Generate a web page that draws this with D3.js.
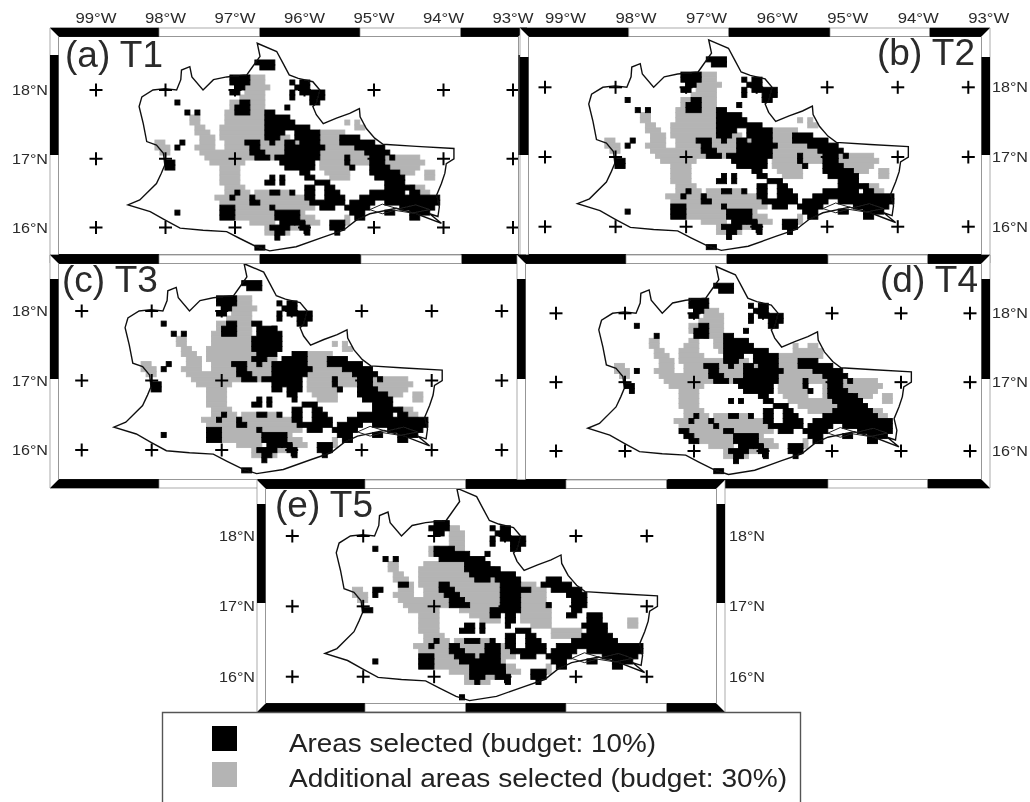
<!DOCTYPE html>
<html><head><meta charset="utf-8">
<script src="https://cdn.jsdelivr.net/npm/d3@7"></script>
<style>html,body{margin:0;padding:0;background:#fff}svg{display:block}text{font-family:"Liberation Sans",Arial,sans-serif}</style>
</head><body><svg id="c" width="1030" height="802"></svg>
<script>
// Tick labels / legend
const lonTicks=[99,98,97,96,95,94,93];
const latTicks=[18,17,16];
const legendLabels=["Areas selected (budget: 10%)","Additional areas selected (budget: 30%)"];

// State outline [lon, lat]
const outline=[[-96.68,18.68],[-96.40,18.56],[-96.31,18.39],[-96.22,18.22],[-96.09,18.17],[-95.88,18.12],[-95.78,18.00],[-95.83,17.81],[-95.88,17.76],[-95.83,17.64],[-95.73,17.51],[-95.54,17.59],[-95.35,17.66],[-95.21,17.73],[-95.20,17.61],[-95.11,17.44],[-94.99,17.30],[-94.87,17.21],[-94.39,17.18],[-93.85,17.15],[-93.85,17.00],[-93.96,16.93],[-93.98,16.79],[-94.03,16.64],[-94.10,16.47],[-94.06,16.30],[-94.08,16.16],[-94.20,16.20],[-94.03,16.06],[-94.39,16.20],[-94.68,16.28],[-95.06,16.20],[-95.25,16.11],[-95.44,15.96],[-95.73,15.86],[-96.12,15.72],[-96.50,15.66],[-96.69,15.72],[-96.93,15.84],[-97.12,15.94],[-97.46,15.96],[-97.79,15.99],[-98.01,16.11],[-98.22,16.23],[-98.54,16.33],[-98.37,16.40],[-98.13,16.64],[-98.06,16.79],[-98.01,16.91],[-98.03,17.08],[-98.13,17.20],[-98.27,17.25],[-98.32,17.51],[-98.38,17.76],[-98.34,17.90],[-98.18,18.00],[-98.01,18.02],[-97.84,18.00],[-97.78,18.15],[-97.77,18.29],[-97.65,18.34],[-97.62,18.19],[-97.46,18.00],[-97.31,18.15],[-97.12,18.19],[-96.83,18.22],[-96.76,18.32],[-96.64,18.49]];
// Lagoon shoreline behind the south-east coast
const lagoon=[[-95.06,16.26],[-94.88,16.34],[-94.65,16.27],[-94.40,16.33],[-94.20,16.26],[-94.45,16.21],[-94.70,16.25],[-94.88,16.20],[-95.06,16.26]];

// Planning-unit grid: rows are [row, firstCol, lastCol, firstCol, lastCol, ...]
const blackTip=[[0,21,24],[1,22,24]];
const blackNW=[[3,16,19],[4,16,19],[5,17,18],[6,16,17],[8,18,19],[9,17,19],[10,17,19]];
const blackNE=[[4,28,28,30,31],[5,29,31],[6,28,28,30,34],[7,28,28,32,34],[8,32,33],[9,27,27]];
const blackSpots=[[8,5,5],[10,7,7,9,9],[16,6,6],[17,5,5],[20,3,4],[21,3,4]];
const blackSpotsT4=[[8,5,5],[10,9,9],[17,5,5],[20,3,4],[21,4,4]];
const blackCluster=[[16,19,21],[17,20,21],[18,20,22],[19,21,23]];
const blackCentralT1=[[10,23,24],[11,23,27],[12,23,28],[13,23,31],[14,23,26,29,33],[15,23,25,29,33],[16,24,24,27,28,30,33],[17,27,28,29,33,34,34],[18,27,33],[19,25,26,27,33],[20,26,32],[21,27,32],[22,30,31],[23,31,32]];
const blackCentralT3=[[8,23,24],[9,24,27],[10,24,28],[11,23,28],[12,23,28],[13,23,28],[14,24,27,31,33],[15,23,25,29,33],[16,24,24,27,28,29,33],[17,27,28,29,33,34,34],[18,27,33],[19,25,26,27,32],[20,27,32],[21,27,28,30,32],[22,30,31],[23,31,31]];
const blackEast=[[15,38,41],[16,38,44],[17,41,46],[18,43,47],[19,39,39,44,46,48,48],[20,39,39,44,46],[21,40,40,44,47],[22,44,49],[23,45,50]];
const blackSE=[[24,47,50],[25,47,52],[26,44,46,47,50,52,53],[27,42,57],[28,40,44,47,57],[29,39,43,50,56],[30,40,42,47,48,52,55],[31,41,42,52,53]];
const blackSET4=[[22,46,48],[23,45,50],[24,46,51],[25,45,52],[26,43,53],[27,41,56],[28,40,44,47,56],[29,39,43,50,56],[30,40,42,47,48,52,55],[31,41,42,52,53]];
const blackRing=[[24,33,35],[25,31,32,35,36],[26,31,32,35,37],[27,31,32,35,38],[28,32,38],[29,34,36]];
const blackSouth=[[23,24,24,26,26],[24,23,24,26,26],[26,17,17,24,25,28,28],[27,16,16,20,20],[28,20,21],[29,14,16,24,24],[30,5,5,14,16,25,29],[31,14,16,25,29],[32,26,28,29,30,36,38],[33,24,27,30,31,36,38],[34,25,26,31,31,37,37],[35,25,25],[37,21,22]];
const blackSouthT4=[[23,24,24,26,26],[26,17,17,24,25,28,28],[27,16,16,20,20],[28,21,21],[29,14,15,23,24],[30,15,16,25,29],[31,16,17,25,29],[32,26,28,29,30,36,38],[33,24,27,30,31,36,38],[34,25,26,31,31,37,37],[35,25,25],[37,21,22]];
const blackT5=[[3,17,19],[4,16,19,28,28,30,31],[5,17,18,29,31],[6,28,28,30,34],[7,28,28,32,34],[8,5,5,17,20,32,33],[9,17,23,27,27],[10,7,7,9,9,18,26],[11,23,27],[12,23,29],[13,24,32],[14,25,27,29,33,39,41],[15,10,11,18,19,30,33,38,43],[16,5,6,18,20,30,33,34,35,40,45],[17,5,5,19,21,30,33,43,46],[18,20,22,30,33,44,46],[19,20,23,30,33,39,39,44,46],[20,3,4,28,29,30,33,44,45],[21,28,29,31,32,43,44,47,49],[22,31,32,47,49],[23,23,24,26,26,31,31,46,50],[24,22,24,26,26,33,35,47,50],[25,31,32,35,36,46,51],[26,17,17,23,25,28,28,31,32,35,37,44,52],[27,16,16,20,21,27,29,31,32,35,38,41,57],[28,20,22,27,29,32,38,40,44,47,57],[29,14,16,21,24,26,29,34,36,39,43,50,56],[30,5,5,14,16,22,29,40,42,47,48,52,55],[31,14,16,24,30,41,42,52,53],[32,24,26,27,30,36,38],[33,24,26,29,31,36,38],[34,25,25,31,31,37,37],[37,22,22]];

const grayT1=[[3,20,22],[4,20,22],[5,19,23],[6,19,22],[7,18,22],[8,16,22],[9,16,22],[10,15,22],[11,8,9,15,23],[12,8,9,15,23,39,39,41,41],[13,9,10,14,23,41,42],[14,9,11,14,25,34,38],[15,10,12,14,27,34,38],[16,1,2,10,12,15,29,34,38],[17,1,3,9,12,15,27,34,40],[18,2,3,10,24,25,27,34,43],[19,11,24,34,44,47,53],[20,12,18,34,43,47,54],[21,14,17,34,40,47,53],[22,14,17,35,39,50,52,55,56],[23,14,17,36,39,55,56],[24,14,17],[25,15,18,52,54],[26,15,19,21,27,52,55],[27,13,30],[28,14,32],[29,16,32],[30,15,30],[31,17,24,27,32,39,39],[32,20,24,30,33,39,39],[33,23,30],[34,23,27]];
const grayT4=[[5,19,21],[6,19,22],[7,18,22],[8,16,22],[9,16,22],[10,19,22],[11,8,9,16,17,21,24],[12,8,9,15,17,21,24,37,37,40,41],[13,9,10,14,17,22,24,37,42],[14,9,11,14,18,23,25,34,42],[15,10,12,14,27,34,38],[16,1,2,10,12,15,29,34,39],[17,1,3,9,12,15,27,34,42],[18,2,3,10,24,25,27,34,44],[19,11,24,34,44,47,53],[20,12,18,34,39,43,44,47,54],[21,14,17,34,39,43,44,47,53],[22,14,17,35,39,43,44,50,52,55,56],[23,14,17,36,44,55,56],[24,14,17,38,45],[25,15,18,40,45,52,54],[26,15,19,21,27,52,55],[27,13,30],[28,14,32],[29,16,32],[30,15,30],[31,17,24,27,32,39,39],[32,20,24,30,33,39,39],[33,23,30],[34,23,27]];
const grayT5=[[4,20,21],[5,20,22],[6,20,22],[7,20,22],[8,16,17,20,22],[9,16,17],[11,8,9,15,27],[12,8,9,14,28],[13,9,10,14,29],[14,9,11,14,29],[15,10,12,14,29,34,36],[16,1,2,10,12,15,29,34,38],[17,1,3,9,12,15,29,34,38],[18,2,3,10,29,34,38],[19,11,29,34,39],[20,12,17,22,29,34,39],[21,14,17,24,29,34,39],[22,14,17,26,29,34,39,55,56],[23,14,17,36,39,55,56],[24,14,17,40,45],[25,15,18,40,45],[26,15,19,21,27],[27,13,30],[28,14,32],[29,16,32],[30,15,30],[31,17,24,27,32,39,39],[32,20,24,30,33,39,39],[33,23,30],[34,23,27]];

const blackT1=[].concat(blackTip,blackNW,blackNE,blackSpots,blackCluster,blackCentralT1,blackEast,blackSE,blackRing,blackSouth);
const blackT3=[].concat(blackTip,blackNW,blackNE,blackSpots,blackCluster,blackCentralT3,blackEast,blackSE,blackRing,blackSouth);
const blackT4=[].concat(blackTip,blackNW,blackNE,blackSpotsT4,blackCluster,blackCentralT1,blackEast,blackSET4,blackRing,blackSouthT4);

const gridLon0=-98.224,gridLonStep=0.0719,gridLat0=18.437,gridLatStep=0.0728;

// Layout per panel
const panels=[
 {name:"(a) T1",tx:65,ty:67,anchor:"start",x:[96,513],y:[90,227.5],L:50,R:527,T:28,B:263,top:[159,260,360,461],bot:[159,260,360,461],v:[55,155],topLabels:true,labelShift:0,left:48,black:blackT1,gray:grayT1,lons:lonTicks},
 {name:"(b) T2",tx:975,ty:65,anchor:"end",x:[545,968.3],y:[87.3,226.7],L:520,R:990,T:28,B:263,top:[628.7,729,830,930],bot:[626,727,827,928],v:[57,155],topLabels:true,labelShift:20.5,right:992,black:blackT1,gray:grayT1,lons:lonTicks},
 {name:"(c) T3",tx:62,ty:292,anchor:"start",x:[81.7,501.7],y:[311,450],L:50,R:526,T:255,B:488,top:[159,260,361,462],bot:[159,258,365,466],v:[279,379],left:48,black:blackT3,gray:grayT1,lons:lonTicks},
 {name:"(d) T4",tx:978,ty:292,anchor:"end",x:[556,970],y:[313.3,451],L:517,R:990,T:255,B:488,top:[626,727,828,928],bot:[567,668,828,928],v:[279,379],right:992,black:blackT4,gray:grayT4,lons:lonTicks},
 {name:"(e) T5",tx:275,ty:517,anchor:"start",x:[292.3,717.7],y:[536,676.7],L:257,R:725,T:480,B:712,top:[365,466,566,667],bot:[365,466,566,667],v:[504,603],left:255,right:729,black:blackT5,gray:grayT5,lons:lonTicks.slice(0,6)}
];

const svg=d3.select("#c");
const defs=svg.append("defs");
defs.append("filter").attr("id","soft").attr("x","-2%").attr("y","-2%").attr("width","104%").attr("height","104%")
  .append("feGaussianBlur").attr("stdDeviation",0.6);
defs.append("filter").attr("id","softText").attr("x","-5%").attr("y","-20%").attr("width","110%").attr("height","140%")
  .append("feGaussianBlur").attr("stdDeviation",0.4);

const runs=rows=>rows.flatMap(r=>{const o=[];for(let i=1;i<r.length;i+=2)o.push({row:r[0],c0:r[i],c1:r[i+1]});return o;});

panels.forEach(p=>{
  const g=svg.append("g").attr("filter","url(#soft)");
  const x=d3.scaleLinear().domain([-99,-93]).range(p.x);
  const y=d3.scaleLinear().domain([18,16]).range(p.y);
  const band=8.5;
  const {L,R,T,B}=p;
  g.append("rect").attr("x",L).attr("y",T).attr("width",R-L).attr("height",B-T).attr("fill","#fff");
  const drawCells=(rows,col)=>g.append("g").selectAll("rect").data(runs(rows)).join("rect")
    .attr("x",d=>x(gridLon0+gridLonStep*d.c0))
    .attr("width",d=>x(gridLon0+gridLonStep*(d.c1+1))-x(gridLon0+gridLonStep*d.c0))
    .attr("y",d=>y(gridLat0-gridLatStep*d.row))
    .attr("height",d=>y(gridLat0-gridLatStep*(d.row+1))-y(gridLat0-gridLatStep*d.row))
    .attr("fill",col).attr("stroke",col).attr("stroke-width",0.9);
  drawCells(p.gray,"#b4b4b4");
  drawCells(p.black,"#000");
  const line=d3.line().x(d=>x(d[0])).y(d=>y(d[1]));
  g.append("path").attr("d",line(outline)+"Z").attr("fill","none").attr("stroke","#111").attr("stroke-width",1.4);
  g.append("path").attr("d",line(lagoon)).attr("fill","none").attr("stroke","#222").attr("stroke-width",1);
  const cross=g.append("g").attr("stroke","#000").attr("stroke-width",2);
  p.lons.forEach(lo=>latTicks.forEach(la=>{
    const cx=x(-lo),cy=y(la);
    cross.append("line").attr("x1",cx-6.5).attr("x2",cx+6.5).attr("y1",cy).attr("y2",cy);
    cross.append("line").attr("x1",cx).attr("x2",cx).attr("y1",cy-6.5).attr("y2",cy+6.5);
  }));
  const il=L+band,ir=R-band,it=T+band,ib=B-band;
  const f=g.append("g");
  f.append("rect").attr("x",il).attr("y",it).attr("width",ir-il).attr("height",ib-it).attr("fill","none").attr("stroke","#777").attr("stroke-width",1);
  const hBand=(stops,y1,yOuter)=>{
    const xs=[L,...stops,R];
    for(let i=0;i<xs.length-1;i++){
      const a=xs[i],b=xs[i+1];
      const ai=i===0?il:a,bi=i===xs.length-2?ir:b;
      f.append("path").attr("d",`M${a},${yOuter}L${b},${yOuter}L${bi},${y1}L${ai},${y1}Z`)
        .attr("fill",i%2===0?"#000":"#fff").attr("stroke",i%2===0?"#000":"#888").attr("stroke-width",0.7);
    }
  };
  hBand(p.top,it,T);
  hBand(p.bot,ib,B);
  const vBand=(xOuter,xInner)=>{
    f.append("path").attr("d",`M${xOuter},${T}L${xOuter},${B}L${xInner},${ib}L${xInner},${it}Z`).attr("fill","#fff").attr("stroke","#888").attr("stroke-width",0.7);
    f.append("rect").attr("x",Math.min(xOuter,xInner)).attr("width",band).attr("y",p.v[0]).attr("height",p.v[1]-p.v[0]).attr("fill","#000");
  };
  vBand(L,il);vBand(R,ir);
  const t=svg.append("g").attr("fill","#2a2a2a").attr("filter","url(#softText)");
  if(p.topLabels) lonTicks.forEach(lo=>t.append("text").attr("x",x(-lo)+p.labelShift).attr("y",23).attr("text-anchor","middle").attr("font-size",15).attr("textLength",41).attr("lengthAdjust","spacingAndGlyphs").text(lo+"°W"));
  latTicks.forEach(la=>{
    if(p.left!==undefined) t.append("text").attr("x",p.left).attr("y",y(la)+5).attr("text-anchor","end").attr("font-size",14).attr("textLength",36).attr("lengthAdjust","spacingAndGlyphs").text(la+"°N");
    if(p.right!==undefined) t.append("text").attr("x",p.right).attr("y",y(la)+5).attr("font-size",14).attr("textLength",36).attr("lengthAdjust","spacingAndGlyphs").text(la+"°N");
  });
  t.append("text").attr("x",p.tx).attr("y",p.ty).attr("text-anchor",p.anchor).attr("font-size",37).text(p.name);
});

// legend
const lg=svg.append("g").attr("filter","url(#soft)");
lg.append("path").attr("d","M162.5,803V712.5H800.5V803").attr("fill","none").attr("stroke","#555").attr("stroke-width",1.4);
lg.append("rect").attr("x",212).attr("y",726).attr("width",25).attr("height",25).attr("fill","#000");
lg.append("rect").attr("x",212).attr("y",762).attr("width",25).attr("height",25).attr("fill","#b4b4b4");
const lt=svg.append("g").attr("fill","#222").attr("font-size",26).attr("filter","url(#softText)");
legendLabels.forEach((s,i)=>lt.append("text").attr("x",289).attr("y",[751.5,786.5][i]).attr("textLength",[367,498][i]).attr("lengthAdjust","spacingAndGlyphs").text(s));
</script></body></html>
